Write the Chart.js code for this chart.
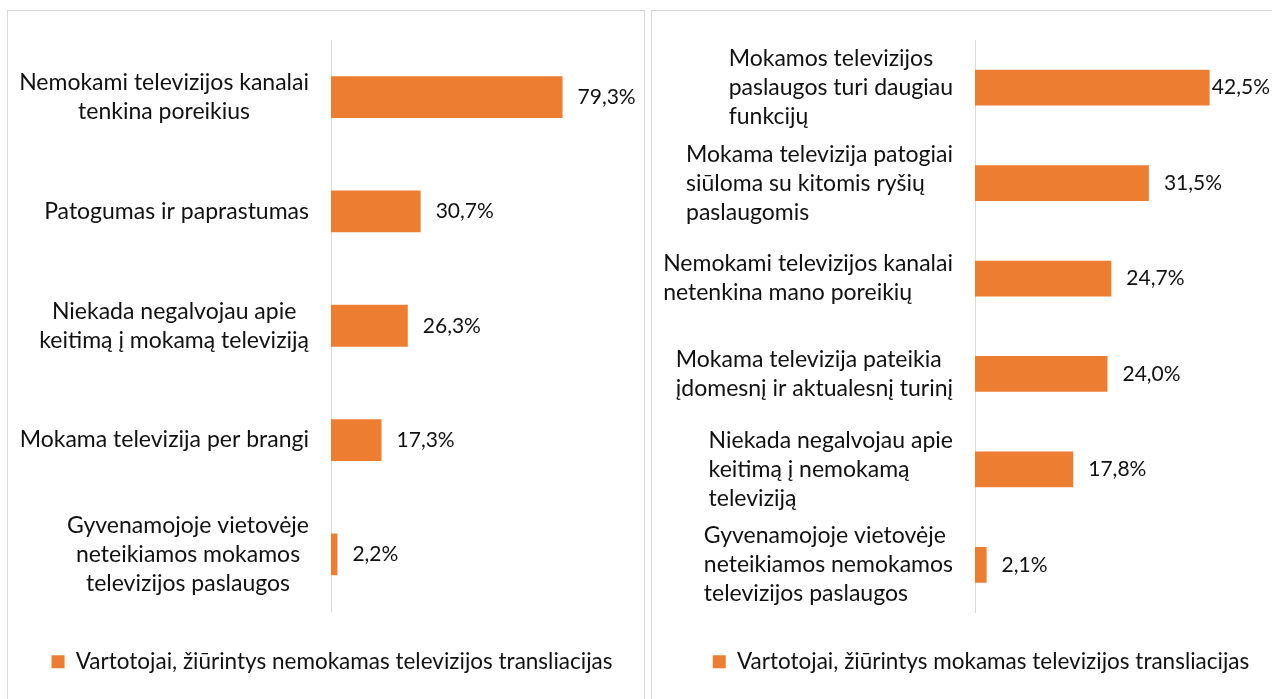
<!DOCTYPE html>
<html>
<head>
<meta charset="utf-8">
<script src="https://cdn.jsdelivr.net/npm/chart.js@4"></script>
<style>
	body { margin: 0; background: #fff; width: 1272px; height: 699px; overflow: hidden; position: relative; }
	.panel { position: absolute; top: 10px; height: 720px; border: 1px solid #d9d9d9; background: #fff; }
	#freePanel { left: 7px; width: 636px; }
	#paidPanel { left: 651px; width: 700px; }
	.panel canvas { position: absolute; left: 0; top: 0; }
</style>
</head>
<body>
<div class="panel" id="freePanel"><canvas id="freeChart" width="636" height="688"></canvas></div>
<div class="panel" id="paidPanel"><canvas id="paidChart" width="620" height="688"></canvas></div>
<script>
var freeLabels = [
	['Nemokami televizijos kanalai', 'tenkina poreikius'],
	['Patogumas ir paprastumas'],
	['Niekada negalvojau apie', 'keitimą į mokamą televiziją'],
	['Mokama televizija per brangi'],
	['Gyvenamojoje vietovėje', 'neteikiamos mokamos', 'televizijos paslaugos']
];
var freeValues = [79.3, 30.7, 26.3, 17.3, 2.2];
var freeSeries = 'Vartotojai, žiūrintys nemokamas televizijos transliacijas';
var freeMax = 100;

var paidLabels = [
	['Mokamos televizijos', 'paslaugos turi daugiau', 'funkcijų'],
	['Mokama televizija patogiai', 'siūloma su kitomis ryšių', 'paslaugomis'],
	['Nemokami televizijos kanalai', 'netenkina mano poreikių'],
	['Mokama televizija pateikia', 'įdomesnį ir aktualesnį turinį'],
	['Niekada negalvojau apie', 'keitimą į nemokamą', 'televiziją'],
	['Gyvenamojoje vietovėje', 'neteikiamos nemokamos', 'televizijos paslaugos']
];
var paidValues = [42.5, 31.5, 24.7, 24.0, 17.8, 2.1];
var paidSeries = 'Vartotojai, žiūrintys mokamas televizijos transliacijas';
var paidMax = 50;

var FONT = 'Lato';
var ORANGE = '#ED7D31';

// category text next to the axis and the value after each bar
var sideLabels = {
	id: 'sideLabels',
	afterDraw: function(chart, args, o) {
		var ctx = chart.ctx;
		var yScale = chart.scales.y;
		var right = chart.chartArea.left - o.gap;
		ctx.save();
		ctx.font = o.fontSize + 'px ' + FONT;
		ctx.fillStyle = '#111';
		ctx.textBaseline = 'middle';

		chart.data.labels.forEach(function(lines, i) {
			var cy = yScale.getPixelForValue(i);
			var widest = 0;
			lines.forEach(function(l) { widest = Math.max(widest, ctx.measureText(l).width); });
			lines.forEach(function(l, k) {
				var y = cy + (k - (lines.length - 1) / 2) * o.lineHeight;
				if (o.align == 'center') {
					ctx.textAlign = 'center';
					ctx.fillText(l, right - widest / 2, y);
				} else {
					ctx.textAlign = 'left';
					ctx.fillText(l, right - widest, y);
				}
			});
		});

		ctx.font = o.valueSize + 'px ' + FONT;
		ctx.textAlign = 'left';
		var values = chart.data.datasets[0].data;
		chart.getDatasetMeta(0).data.forEach(function(bar, i) {
			var text = values[i].toFixed(1).replace('.', ',') + '%';
			var w = ctx.measureText(text).width;
			var x = Math.min(bar.x + o.offset, chart.width - w - 2);
			ctx.fillText(text, x, bar.y);
		});
		ctx.restore();
	}
};

function TvChart(canvasId, labels, values, series, settings) {
	var self = this;

	self.config = {
		type: 'bar',
		data: {
			labels: labels,
			datasets: [{
				label: series,
				data: values,
				backgroundColor: ORANGE,
				borderWidth: 0,
				barPercentage: settings.barPercentage,
				categoryPercentage: 1
			}]
		},
		options: {
			indexAxis: 'y',
			responsive: false,
			animation: false,
			layout: { padding: { top: 29, left: settings.padLeft, right: settings.padRight, bottom: 16 } },
			scales: {
				x: { display: false, min: 0, max: settings.max },
				y: {
					grid: { display: false, drawTicks: false },
					border: { display: true, color: '#d9d9d9', width: 1 },
					ticks: { display: false },
					afterFit: function(scale) { scale.width = settings.axisWidth; }
				}
			},
			plugins: {
				tooltip: { enabled: false },
				legend: {
					position: 'bottom',
					labels: {
						boxWidth: 13,
						boxHeight: 13,
						padding: settings.legendPad,
						color: '#111',
						font: { family: FONT, size: 22.5 }
					}
				},
				sideLabels: { gap: 22, lineHeight: 29, fontSize: 23, valueSize: 21, offset: 15, align: settings.align }
			}
		},
		plugins: [sideLabels]
	};

	self.chart = new Chart(document.getElementById(canvasId), self.config);
}

new TvChart('freeChart', freeLabels, freeValues, freeSeries,
	{ max: freeMax, barPercentage: 0.366, padLeft: 33, padRight: 21, axisWidth: 290, legendPad: 39, align: 'center' });
new TvChart('paidChart', paidLabels, paidValues, paidSeries,
	{ max: paidMax, barPercentage: 0.375, padLeft: 59, padRight: 21, axisWidth: 264, legendPad: 38, align: 'left' });
</script>
</body>
</html>
